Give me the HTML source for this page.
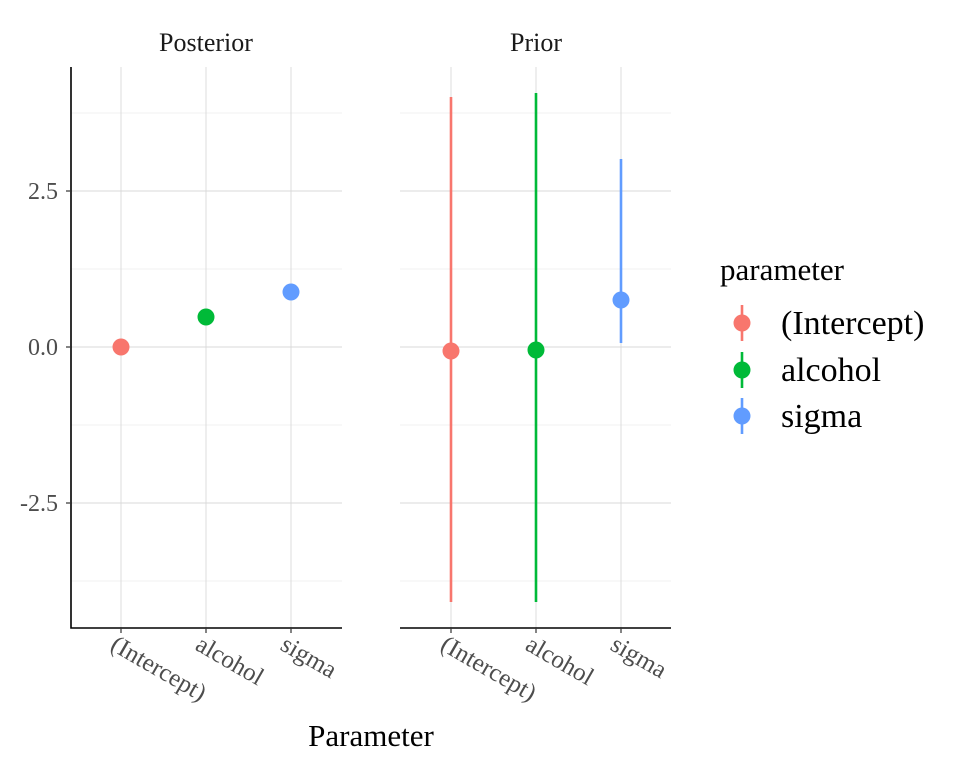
<!DOCTYPE html>
<html><head><style>body{margin:0;background:#fff}svg{display:block}text{font-family:"Liberation Serif",serif}</style></head>
<body>
<svg width="960" height="768" xmlns="http://www.w3.org/2000/svg">
<rect width="960" height="768" fill="#fff"/>
<g stroke="#ebebeb" stroke-width="0.7">
<line x1="71" x2="342" y1="113" y2="113"/><line x1="71" x2="342" y1="269" y2="269"/><line x1="71" x2="342" y1="425" y2="425"/><line x1="71" x2="342" y1="581" y2="581"/>
<line x1="400" x2="671" y1="113" y2="113"/><line x1="400" x2="671" y1="269" y2="269"/><line x1="400" x2="671" y1="425" y2="425"/><line x1="400" x2="671" y1="581" y2="581"/>
</g>
<g stroke="#d9d9d9" stroke-width="0.9">
<line x1="71" x2="342" y1="191" y2="191"/><line x1="71" x2="342" y1="347" y2="347"/><line x1="71" x2="342" y1="503" y2="503"/>
<line x1="400" x2="671" y1="191" y2="191"/><line x1="400" x2="671" y1="347" y2="347"/><line x1="400" x2="671" y1="503" y2="503"/>
<line x1="121" x2="121" y1="67" y2="628"/><line x1="206" x2="206" y1="67" y2="628"/><line x1="291" x2="291" y1="67" y2="628"/>
<line x1="451" x2="451" y1="67" y2="628"/><line x1="536" x2="536" y1="67" y2="628"/><line x1="621" x2="621" y1="67" y2="628"/>
</g>
<g stroke="#000" stroke-width="1.6" fill="none">
<polyline points="71,67 71,628 342,628"/>
<line x1="400" x2="671" y1="628" y2="628"/>
</g>
<g stroke="#333" stroke-width="1.2">
<line x1="66" x2="71" y1="191" y2="191"/><line x1="66" x2="71" y1="347" y2="347"/><line x1="66" x2="71" y1="503" y2="503"/>
<line x1="121" x2="121" y1="628" y2="633"/><line x1="206" x2="206" y1="628" y2="633"/><line x1="291" x2="291" y1="628" y2="633"/>
<line x1="451" x2="451" y1="628" y2="633"/><line x1="536" x2="536" y1="628" y2="633"/><line x1="621" x2="621" y1="628" y2="633"/>
</g>
<g font-size="24" fill="#4d4d4d" text-anchor="end">
<text x="58" y="199">2.5</text><text x="58" y="355">0.0</text><text x="58" y="511">-2.5</text>
</g>
<g font-size="25" fill="#4d4d4d">
<text transform="translate(109,649) rotate(30)">(Intercept)</text>
<text transform="translate(194,649) rotate(30)">alcohol</text>
<text transform="translate(279,649) rotate(30)">sigma</text>
<text transform="translate(439,649) rotate(30)">(Intercept)</text>
<text transform="translate(524,649) rotate(30)">alcohol</text>
<text transform="translate(609,649) rotate(30)">sigma</text>
</g>
<g font-size="26" fill="#1a1a1a" text-anchor="middle">
<text x="206" y="51">Posterior</text><text x="536" y="51">Prior</text>
</g>
<text x="371" y="746" font-size="31" text-anchor="middle" fill="#000">Parameter</text>
<g stroke-width="2.6">
<line x1="451" x2="451" y1="97" y2="602" stroke="#F8766D"/>
<line x1="536" x2="536" y1="93" y2="602" stroke="#00BA38"/>
<line x1="621" x2="621" y1="159" y2="343" stroke="#619CFF"/>
</g>
<circle cx="121" cy="347" r="8.5" fill="#F8766D"/>
<circle cx="206" cy="317" r="8.5" fill="#00BA38"/>
<circle cx="291" cy="292" r="8.5" fill="#619CFF"/>
<circle cx="451" cy="351" r="8.5" fill="#F8766D"/>
<circle cx="536" cy="350" r="8.5" fill="#00BA38"/>
<circle cx="621" cy="300" r="8.5" fill="#619CFF"/>
<text x="720" y="280" font-size="31" fill="#000">parameter</text>
<g stroke-width="2.6">
<line x1="742" x2="742" y1="305" y2="341" stroke="#F8766D"/>
<line x1="742" x2="742" y1="352" y2="388" stroke="#00BA38"/>
<line x1="742" x2="742" y1="398" y2="434" stroke="#619CFF"/>
</g>
<circle cx="742" cy="323" r="8.5" fill="#F8766D"/>
<circle cx="742" cy="370" r="8.5" fill="#00BA38"/>
<circle cx="742" cy="416" r="8.5" fill="#619CFF"/>
<g font-size="34" fill="#000">
<text x="781" y="334">(Intercept)</text><text x="781" y="381">alcohol</text><text x="781" y="427">sigma</text>
</g>
</svg>
</body></html>
